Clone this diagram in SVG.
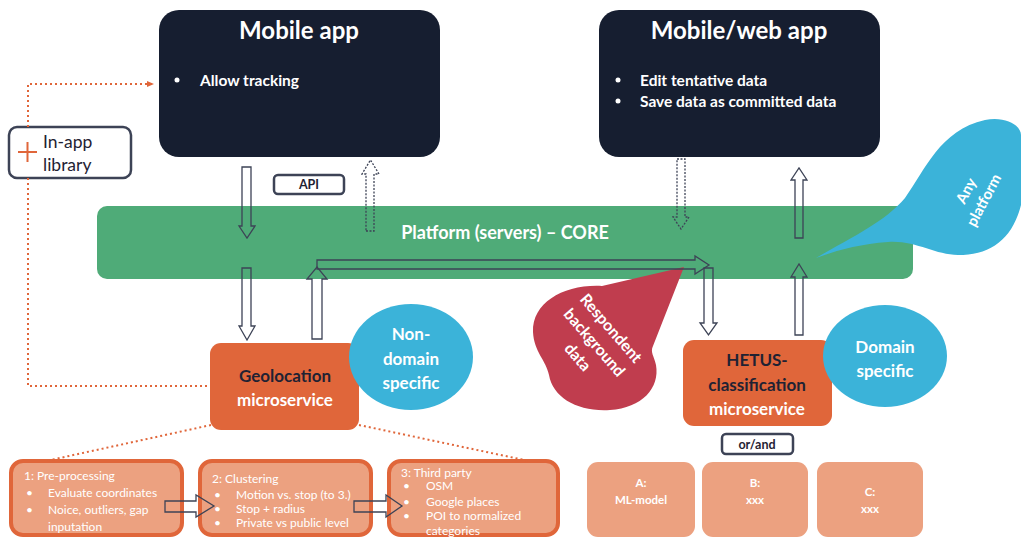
<svg xmlns="http://www.w3.org/2000/svg" width="1021" height="538" viewBox="0 0 1021 538">
<defs>
<style>
text{font-family:"Lato","Noto Sans","Liberation Sans",sans-serif;}
.w{fill:#ffffff;}
.d{fill:#1f2233;}
.title{font-size:24px;font-weight:bold;}
.bul{font-size:15.5px;font-weight:bold;}
.mid{text-anchor:middle;}
.blk{fill:none;stroke:#3d4356;stroke-width:1.3;}
.dot{stroke-dasharray:2 1.5;}
.odot{fill:none;stroke:#e0663a;stroke-width:2;stroke-dasharray:2 3;}
.sm{font-size:12.5px;font-weight:bold;}
.lbl{fill:#ffffff;stroke:#3d4356;stroke-width:2.5;}
.nd{font-size:17px;font-weight:bold;}
.st{font-size:12px;fill:#ffffff;}
</style>
<marker id="oa" markerWidth="8" markerHeight="8" refX="6" refY="4" orient="auto" markerUnits="userSpaceOnUse">
<path d="M0,1 L7,4 L0,7 Z" fill="#e0663a"/>
</marker>
</defs>
<rect width="1021" height="538" fill="#ffffff"/>

<g id="platform">
<rect x="97" y="206" width="816" height="73" rx="10" fill="#4fab78"/>
<text x="505" y="239" class="w mid" font-size="18" font-weight="bold">Platform (servers) – CORE</text>
</g>

<g id="mobile-app">
<rect x="159" y="10" width="281" height="147" rx="20" fill="#161e30"/>
<text x="299" y="39" class="w mid title">Mobile app</text>
<circle cx="177" cy="80" r="2.5" fill="#ffffff"/>
<text x="200" y="86" class="w bul">Allow tracking</text>
</g>

<g id="mobile-web-app">
<rect x="599" y="10" width="281" height="147" rx="20" fill="#161e30"/>
<text x="739" y="39" class="w mid title">Mobile/web app</text>
<circle cx="618" cy="80" r="2.5" fill="#ffffff"/>
<text x="640" y="86" class="w bul">Edit tentative data</text>
<circle cx="618" cy="101" r="2.5" fill="#ffffff"/>
<text x="640" y="107" class="w bul">Save data as committed data</text>
</g>

<g id="in-app-library">
<rect x="9" y="127" width="122" height="51" rx="8" class="lbl"/>
<path d="M18,152 H37 M27.5,142 V162" stroke="#e0663a" stroke-width="2" fill="none"/>
<text x="43" y="148" class="d" font-size="17.5">In-app</text>
<text x="43" y="171" class="d" font-size="17.5">library</text>
</g>

<g id="api-label">
<rect x="274" y="175" width="70" height="19" rx="4" class="lbl"/>
<text x="309" y="189" class="d mid sm">API</text>
</g>

<g id="any-platform">
<path d="M816,258 C850,238 885,222 905,198 C925,170 940,130 985,120 C1005,116 1021,125 1021,135 L1021,205 C1012,240 990,255 958,255 C935,255 915,240 888,242 C860,244 838,250 816,258 Z" fill="#3bb3d9"/>
<g transform="translate(976,196) rotate(-62)">
<text x="0" y="-6" class="w mid" font-size="15" font-weight="bold">Any</text>
<text x="0" y="14" class="w mid" font-size="15" font-weight="bold">platform</text>
</g>
</g>

<g id="respondent-data">
<path d="M684,267 L602,286 C565,284 532,302 533,332 C534,352 546,360 549,375 C553,398 578,412 610,410 C642,408 660,388 656,365 C654,356 650,352 653,346 Z" fill="#c03d4e"/>
<g transform="translate(594,343) rotate(49)">
<text x="0" y="-17" class="w mid" font-size="16" font-weight="bold">Respondent</text>
<text x="0" y="5" class="w mid" font-size="16" font-weight="bold">background</text>
<text x="0" y="27" class="w mid" font-size="16" font-weight="bold">data</text>
</g>
</g>

<g id="geolocation">
<rect x="210" y="343" width="149" height="87" rx="11" fill="#e0663a"/>
<text x="285" y="382" class="d mid nd">Geolocation</text>
<text x="285" y="406" class="w mid nd">microservice</text>
</g>

<g id="non-domain">
<ellipse cx="411" cy="357" rx="62" ry="53" fill="#3bb3d9"/>
<text x="411" y="340" class="w mid nd">Non-</text>
<text x="411" y="365" class="w mid nd">domain</text>
<text x="411" y="389" class="w mid nd">specific</text>
</g>

<g id="hetus">
<rect x="683" y="340" width="149" height="86" rx="11" fill="#e0663a"/>
<text x="757" y="366" class="d mid nd">HETUS-</text>
<text x="757" y="391" class="d mid nd">classification</text>
<text x="757" y="415" class="w mid nd">microservice</text>
</g>

<g id="domain">
<ellipse cx="885" cy="356" rx="62" ry="51" fill="#3bb3d9"/>
<text x="885" y="353" class="w mid nd">Domain</text>
<text x="885" y="377" class="w mid nd">specific</text>
</g>

<g id="or-and">
<rect x="722" y="434" width="71" height="20" rx="4" class="lbl"/>
<text x="757" y="448.5" class="d mid sm">or/and</text>
</g>

<g id="model-a">
<rect x="587" y="462" width="108" height="75" rx="11" fill="#eca180"/>
<text x="641" y="487" class="w mid" font-size="11.5" font-weight="bold">A:</text>
<text x="641" y="504" class="w mid" font-size="11.5" font-weight="bold">ML-model</text>
</g>
<g id="model-b">
<rect x="702" y="462" width="106" height="75" rx="11" fill="#eca180"/>
<text x="755" y="487" class="w mid" font-size="11.5" font-weight="bold">B:</text>
<text x="755" y="504" class="w mid" font-size="11.5" font-weight="bold">xxx</text>
</g>
<g id="model-c">
<rect x="817" y="462" width="106" height="75" rx="11" fill="#eca180"/>
<text x="870" y="496" class="w mid" font-size="11.5" font-weight="bold">C:</text>
<text x="870" y="513" class="w mid" font-size="11.5" font-weight="bold">xxx</text>
</g>

<g id="step1">
<rect x="11" y="461" width="171" height="74" rx="12" fill="#eca180" stroke="#e0663a" stroke-width="4"/>
<text x="24" y="480" class="st">1: Pre-processing</text>
<text x="26" y="497" class="st">•</text>
<text x="48" y="497" class="st">Evaluate coordinates</text>
<text x="26" y="514" class="st">•</text>
<text x="48" y="514" class="st">Noice, outliers, gap</text>
<text x="48" y="531" class="st">inputation</text>
</g>
<g id="step2">
<rect x="200" y="461" width="171" height="74" rx="12" fill="#eca180" stroke="#e0663a" stroke-width="4"/>
<text x="212" y="483" class="st">2: Clustering</text>
<text x="214" y="499" class="st">•</text>
<text x="236" y="499" class="st">Motion vs. stop (to 3.)</text>
<text x="214" y="513" class="st">•</text>
<text x="236" y="513" class="st">Stop + radius</text>
<text x="214" y="527" class="st">•</text>
<text x="236" y="527" class="st">Private vs public level</text>
</g>
<g id="step3">
<rect x="389" y="461" width="169" height="74" rx="12" fill="#eca180" stroke="#e0663a" stroke-width="4"/>
<text x="401" y="477" class="st">3: Third party</text>
<text x="403" y="490" class="st">•</text>
<text x="426" y="490" class="st">OSM</text>
<text x="403" y="506" class="st">•</text>
<text x="426" y="506" class="st">Google places</text>
<text x="403" y="520" class="st">•</text>
<text x="426" y="520" class="st">POI to normalized</text>
<text x="426" y="535" class="st">categories</text>
</g>

<g id="connectors">
<path class="odot" d="M28,127 V84 H153" marker-end="url(#oa)"/>
<path class="odot" d="M28,178 V386 H210"/>
<path class="odot" d="M211,425 L46,461"/>
<path class="odot" d="M359,425 L529,461"/>
<path class="blk" d="M242,167 H251 V226 H255 L247,238 L239,226 H242 Z"/>
<path class="blk dot" d="M366,231 H374 V174 H379 L370.5,160 L362,174 H366 Z"/>
<path class="blk" d="M242,268 H251 V326 H255 L247,340 L239,326 H242 Z"/>
<path class="blk" d="M312,339 H322 V279 H327 L317,267 L307,279 H312 Z"/>
<path class="blk" d="M317,260 H695 V256 L709,265 L695,274 V269 H317 Z"/>
<path class="blk" d="M704,268 H713 V323 H717 L708.5,335 L700,323 H704 Z"/>
<path class="blk" d="M795,335 H803 V277 H807 L799,264 L791,277 H795 Z"/>
<path class="blk dot" d="M677,159 H685 V217 H689 L681,229 L673,217 H677 Z"/>
<path class="blk" d="M795,238 H803 V180 H807 L799,168 L791,180 H795 Z"/>
<path class="blk" d="M165,501 H196 V495 L214,506 L196,517 V512 H165 Z"/>
<path class="blk" d="M354,501 H386 V495 L402,506 L386,517 V512 H354 Z"/>
</g>
</svg>
